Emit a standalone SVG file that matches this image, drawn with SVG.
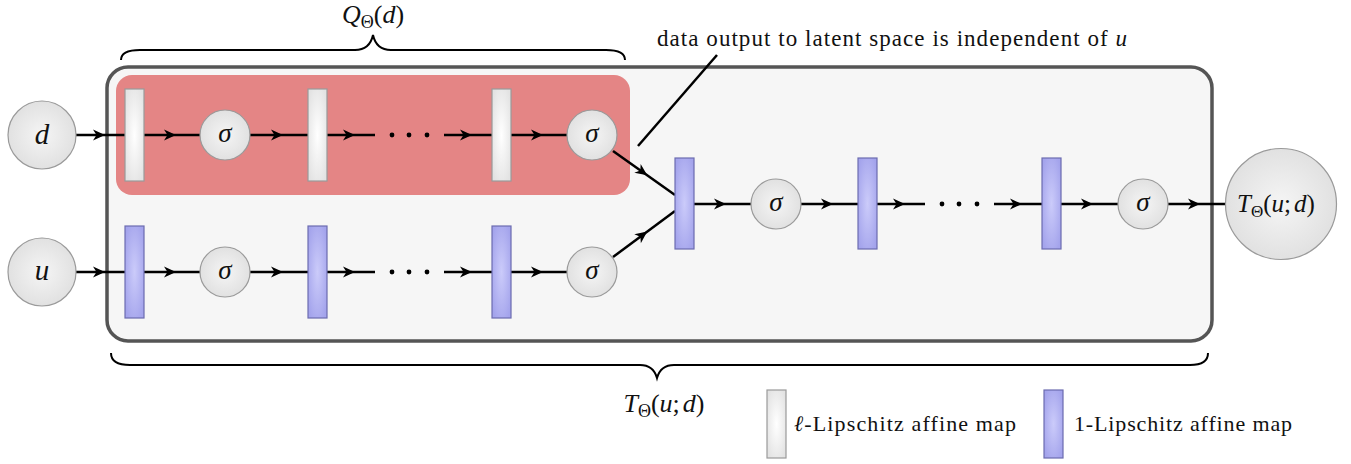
<svg xmlns="http://www.w3.org/2000/svg" width="1351" height="464" viewBox="0 0 1351 464">
<defs>
  <radialGradient id="gC" cx="0.5" cy="0.5" r="0.5">
    <stop offset="0" stop-color="#f5f5f5"/>
    <stop offset="1" stop-color="#e1e1e1"/>
  </radialGradient>
  <radialGradient id="gW" cx="0.5" cy="0.5" r="0.6">
    <stop offset="0" stop-color="#ffffff"/>
    <stop offset="1" stop-color="#e3e3e3"/>
  </radialGradient>
  <radialGradient id="gB" cx="0.5" cy="0.5" r="0.6">
    <stop offset="0" stop-color="#cbcbfa"/>
    <stop offset="1" stop-color="#a4a4ec"/>
  </radialGradient>
  <marker id="arr" markerUnits="userSpaceOnUse" viewBox="-12 -7 18 14" refX="0" refY="0" markerWidth="18" markerHeight="14" orient="auto" overflow="visible">
    <path d="M4,0 L-8,-5.5 L-4.5,0 L-8,5.5 Z" fill="#000"/>
  </marker>
</defs>
<style>
  .circ { fill: url(#gC); stroke: #9a9a9a; stroke-width: 1.2; }
  .wrect { fill: url(#gW); stroke: #9a9a9a; stroke-width: 1.2; }
  .brect { fill: url(#gB); stroke: #6c6cb0; stroke-width: 1.2; }
  .conn { fill: none; stroke: #000; stroke-width: 2.5; marker-mid: url(#arr); }
  .line { fill: none; stroke: #000; stroke-width: 2.5; }
  .brace { fill: none; stroke: #000; stroke-width: 2; }
  .t { font-family: "Liberation Serif", "DejaVu Serif", serif; fill: #111; }
  .math { font-style: italic; }
  .dot { fill: #000; }
</style>

<!-- containers -->
<g id="outer-box">
  <rect x="107" y="67" width="1105" height="274" rx="21" fill="#f6f6f6" stroke="#555555" stroke-width="3.5"/>
</g>
<g id="q-box">
  <rect x="116" y="75" width="514" height="120" rx="16" fill="#e48585"/>
</g>

<!-- braces and labels -->
<g id="brace-q">
  <path class="brace" d="M121,60 C121,53 128,50 140,50 L355,50 C366,50 371,44 373,35 C375,44 380,50 391,50 L606,50 C618,50 625,53 625,60"/>
  <text class="t" x="373" y="23" font-size="26" text-anchor="middle"><tspan font-style="italic">Q</tspan><tspan font-size="18" dy="5">Θ</tspan><tspan dy="-5">(</tspan><tspan font-style="italic">d</tspan>)</text>
</g>
<g id="brace-t">
  <path class="brace" d="M111,353 C111,361 118,365 130,365 L640,365 C651,365 655,371 657,378 C659,371 663,365 674,365 L1190,365 C1202,365 1208,361 1208,353"/>
  <text class="t" x="664" y="412" font-size="26" text-anchor="middle"><tspan font-style="italic">T</tspan><tspan font-size="18" dy="5">Θ</tspan><tspan dy="-5">(</tspan><tspan font-style="italic">u</tspan>;<tspan font-style="italic" dx="3">d</tspan>)</text>
</g>
<g id="annotation">
  <path class="line" d="M638,146 L717,55" stroke-width="1.6"/>
  <text class="t" x="657" y="46" font-size="23" textLength="470" lengthAdjust="spacing">data output to latent space is independent of <tspan font-style="italic">u</tspan></text>
</g>

<!-- connectors -->
<g id="connectors">
  <path class="conn" d="M76,135 L101,135 L125,135"/>
  <path class="conn" d="M144,135 L172,135 L200,135"/>
  <path class="conn" d="M250,135 L279,135 L308,135"/>
  <path class="conn" d="M327,135 L351,135 L375,135"/>
  <path class="conn" d="M444,135 L468,135 L492,135"/>
  <path class="conn" d="M511,135 L539,135 L567,135"/>
  <path class="conn" d="M613,151 L644,173 L675,195"/>
  <path class="conn" d="M76,272 L101,272 L125,272"/>
  <path class="conn" d="M144,272 L172,272 L200,272"/>
  <path class="conn" d="M250,272 L279,272 L308,272"/>
  <path class="conn" d="M327,272 L351,272 L375,272"/>
  <path class="conn" d="M444,272 L468,272 L492,272"/>
  <path class="conn" d="M511,272 L539,272 L567,272"/>
  <path class="conn" d="M613,257 L644,234 L675,211"/>
  <path class="conn" d="M694,204 L722,204 L751,204"/>
  <path class="conn" d="M801,204 L829,204 L858,204"/>
  <path class="conn" d="M877,204 L901,204 L925,204"/>
  <path class="conn" d="M994,204 L1018,204 L1042,204"/>
  <path class="conn" d="M1061,204 L1089,204 L1118,204"/>
  <path class="conn" d="M1168,204 L1196,204 L1225,204"/>
  <circle class="dot" cx="392" cy="135" r="2.4"/>
  <circle class="dot" cx="409" cy="135" r="2.4"/>
  <circle class="dot" cx="427" cy="135" r="2.4"/>
  <circle class="dot" cx="392" cy="272" r="2.4"/>
  <circle class="dot" cx="409" cy="272" r="2.4"/>
  <circle class="dot" cx="427" cy="272" r="2.4"/>
  <circle class="dot" cx="942" cy="204" r="2.4"/>
  <circle class="dot" cx="959" cy="204" r="2.4"/>
  <circle class="dot" cx="977" cy="204" r="2.4"/>
</g>

<!-- nodes -->
<g id="node-d">
  <circle class="circ" cx="42" cy="135" r="34"/>
  <text class="t math" x="42" y="144" font-size="29" text-anchor="middle">d</text>
</g>
<g id="node-u">
  <circle class="circ" cx="42" cy="272" r="34"/>
  <text class="t math" x="42" y="280" font-size="29" text-anchor="middle">u</text>
</g>
<g id="q-affine-1"><rect class="wrect" x="125" y="89" width="19" height="92"/></g>
<g id="q-sigma-1">
  <circle class="circ" cx="225" cy="135" r="25"/>
  <text class="t math" x="225" y="142" font-size="27" text-anchor="middle">σ</text>
</g>
<g id="q-affine-2"><rect class="wrect" x="308" y="89" width="19" height="92"/></g>
<g id="q-affine-3"><rect class="wrect" x="492" y="89" width="19" height="92"/></g>
<g id="q-sigma-2">
  <circle class="circ" cx="592" cy="135" r="25"/>
  <text class="t math" x="592" y="142" font-size="27" text-anchor="middle">σ</text>
</g>

<g id="u-affine-1"><rect class="brect" x="125" y="226" width="19" height="92"/></g>
<g id="u-sigma-1">
  <circle class="circ" cx="225" cy="272" r="25"/>
  <text class="t math" x="225" y="279" font-size="27" text-anchor="middle">σ</text>
</g>
<g id="u-affine-2"><rect class="brect" x="308" y="226" width="19" height="92"/></g>
<g id="u-affine-3"><rect class="brect" x="492" y="226" width="19" height="92"/></g>
<g id="u-sigma-2">
  <circle class="circ" cx="592" cy="272" r="25"/>
  <text class="t math" x="592" y="279" font-size="27" text-anchor="middle">σ</text>
</g>

<g id="t-affine-1"><rect class="brect" x="675" y="158" width="19" height="91"/></g>
<g id="t-sigma-1">
  <circle class="circ" cx="776" cy="204" r="25"/>
  <text class="t math" x="776" y="211" font-size="27" text-anchor="middle">σ</text>
</g>
<g id="t-affine-2"><rect class="brect" x="858" y="158" width="19" height="91"/></g>
<g id="t-affine-3"><rect class="brect" x="1042" y="158" width="19" height="91"/></g>
<g id="t-sigma-2">
  <circle class="circ" cx="1143" cy="204" r="25"/>
  <text class="t math" x="1143" y="211" font-size="27" text-anchor="middle">σ</text>
</g>
<g id="node-output">
  <circle class="circ" cx="1281" cy="204" r="55.5"/>
  <text class="t" x="1276" y="212" font-size="25" text-anchor="middle"><tspan font-style="italic">T</tspan><tspan font-size="17" dy="5">Θ</tspan><tspan dy="-5">(</tspan><tspan font-style="italic">u</tspan>;<tspan font-style="italic" dx="3">d</tspan>)</text>
</g>

<!-- legend -->
<g id="legend-l">
  <rect class="wrect" x="767" y="390" width="19" height="68"/>
  <text class="t" x="794" y="431" font-size="22" textLength="222" lengthAdjust="spacing"><tspan font-style="italic">ℓ</tspan>-Lipschitz affine map</text>
</g>
<g id="legend-1">
  <rect class="brect" x="1044" y="390" width="19" height="68"/>
  <text class="t" x="1074" y="431" font-size="22" textLength="218" lengthAdjust="spacing">1-Lipschitz affine map</text>
</g>
</svg>
